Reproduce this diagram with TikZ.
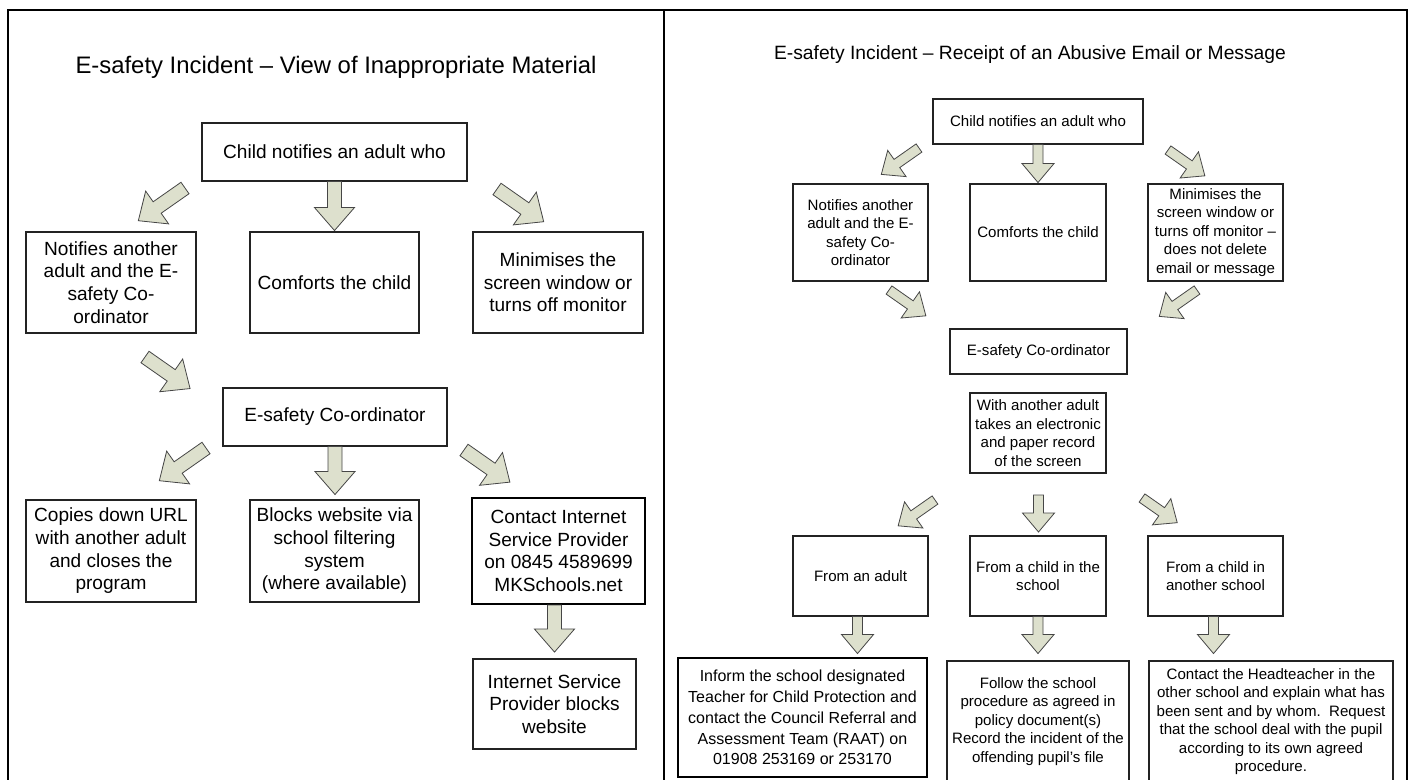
\documentclass[tikz,border=0pt]{standalone}
\usepackage{fontspec}
\setmainfont{Liberation Sans}
\usetikzlibrary{calc}
\definecolor{arrfill}{RGB}{221,224,205}
\definecolor{arrline}{RGB}{70,70,70}
\definecolor{boxline}{RGB}{35,35,35}
\tikzset{
  box/.style={draw=boxline, line width=0.8pt, align=center, inner sep=0pt},
  thickbox/.style={draw=black, line width=1.6pt, align=center, inner sep=0pt},
  wh/.style 2 args={minimum width=#1*0.75pt, minimum height=#2*0.75pt},
  lfont/.style={font=\fontsize{14.3}{17}\selectfont},
  rfont/.style={font=\fontsize{11.3}{13.9}\selectfont},
  r4font/.style={font=\fontsize{12}{15.6}\selectfont},
  barr/.style={draw=arrline, fill=arrfill, line width=0.6pt, line join=miter},
  frame/.style={draw=black, line width=1.6pt}
}
\newcommand{\blkarrow}[6]{%
  \begin{scope}[shift={#1},rotate=#2]
    \draw[barr] (0,-#4) -- ({#3-#6},-#4) -- ({#3-#6},-#5) -- (#3,0) -- ({#3-#6},#5) -- ({#3-#6},#4) -- (0,#4) -- cycle;
  \end{scope}}
\newcommand{\bigarrow}[3]{\blkarrow{#1}{#2}{#3}{7}{20}{23}}
\newcommand{\smallarrow}[3]{\blkarrow{#1}{#2}{#3}{5}{16}{19}}
\begin{document}
\begin{tikzpicture}[x=0.75pt,y=-0.75pt]
\useasboundingbox (0,0) rectangle (1414,779);
\clip (0,0) rectangle (1414,779);
% frame
\draw[frame] (8,800) -- (8,10) -- (1407,10) -- (1407,800);
\draw[frame] (664,10) -- (664,800);

%% ---------------- LEFT PANEL ----------------
\node[font=\fontsize{17.9}{20}\selectfont] (ltitle) at (336,67) {E-safety Incident – View of Inappropriate Material};
\node[box, lfont, wh={265}{58}] (lt) at (334.5,152) {Child notifies an adult who};
\node[box, lfont, wh={170}{101}] (l21) at (111,282.5) {Notifies another\\adult and the E-\\safety Co-\\ordinator};
\node[box, lfont, wh={169}{101}] (l22) at (334.5,282.5) {Comforts the child};
\node[box, lfont, wh={170}{101}] (l23) at (558,282.5) {Minimises the\\screen window or\\turns off monitor};
\node[box, lfont, wh={224}{58}] (lc) at (335,417) {E-safety Co-ordinator};
\node[box, lfont, wh={170}{102}] (l31) at (111,551) {Copies down URL\\with another adult\\and closes the\\program};
\node[box, lfont, wh={169}{102}] (l32) at (334.5,551) {Blocks website via\\school filtering\\system\\(where available)};
\node[thickbox, lfont, wh={173}{106}] (l33) at (558.5,551) {Contact Internet\\Service Provider\\on 0845 4589699\\MKSchools.net};
\node[box, lfont, wh={163}{90}] (l4) at (554.5,704) {Internet Service\\Provider blocks\\website};

% arrows left
\bigarrow{(185,188)}{215}{57}
\bigarrow{(lt.south)}{-90}{49}
\bigarrow{(497,189)}{-35}{57}
\bigarrow{(145,357)}{-35}{55}
\bigarrow{(206,448)}{215}{57}
\bigarrow{(lc.south)}{-90}{48}
\bigarrow{(464,450)}{-35}{56}
\bigarrow{($(l33.south)+(-4,0)$)}{-90}{47}

%% ---------------- RIGHT PANEL ----------------
\node[font=\fontsize{14.45}{17}\selectfont] (rtitle) at (1030,55) {E-safety Incident – Receipt of an Abusive Email or Message};
\node[box, rfont, wh={210}{45}] (rt) at (1038,121.5) {Child notifies an adult who};
\node[box, rfont, wh={135}{97}] (r21) at (860.5,232.5) {Notifies another\\adult and the E-\\safety Co-\\ordinator};
\node[box, rfont, wh={136}{97}] (r22) at (1038,232.5) {Comforts the child};
\node[box, rfont, wh={135}{97}] (r23) at (1215.5,232.5) {Minimises the\\screen window or\\turns off monitor –\\does not delete\\email or message};
\node[box, rfont, wh={177}{45}] (rc) at (1038.5,351.5) {E-safety Co-ordinator};
\node[box, rfont, wh={136}{80}] (rr) at (1038,433) {With another adult\\takes an electronic\\and paper record\\of the screen};
\node[box, rfont, wh={135}{80}] (r31) at (860.5,576) {From an adult};
\node[box, rfont, wh={136}{80}] (r32) at (1038,576) {From a child in the\\school};
\node[box, rfont, wh={135}{80}] (r33) at (1215.5,576) {From a child in\\another school};
\node[thickbox, r4font, wh={249}{119}] (r41) at (802.5,717.5) {Inform the school designated\\Teacher for Child Protection and\\contact the Council Referral and\\Assessment Team (RAAT) on\\01908 253169 or 253170};
\node[box, rfont, wh={182}{121}] (r42) at (1038,721.5) {Follow the school\\procedure as agreed in\\policy document(s)\\Record the incident of the\\offending pupil’s file};
\node[box, rfont, wh={244}{121}] (r43) at (1271,721.5) {Contact the Headteacher in the\\other school and explain what has\\been sent and by whom.\ \ Request\\that the school deal with the pupil\\according to its own agreed\\procedure.};

% arrows right
\smallarrow{(919,148)}{215}{46}
\smallarrow{(rt.south)}{-90}{38}
\smallarrow{(1168,150)}{-35}{45}
\smallarrow{(889,290)}{-35}{45}
\smallarrow{(1197,290)}{215}{46}
\smallarrow{(935,500)}{215}{45}
\smallarrow{(1038.5,495)}{-90}{37}
\smallarrow{(1142,498)}{-35}{43}
\smallarrow{($(r31.south)+(-3,0)$)}{-90}{37}
\smallarrow{(r32.south)}{-90}{37}
\smallarrow{($(r33.south)+(-2,0)$)}{-90}{37}
\end{tikzpicture}
\end{document}
